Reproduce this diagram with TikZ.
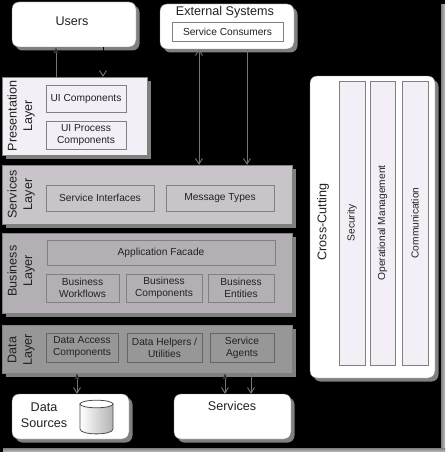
\documentclass[tikz,border=0pt]{standalone}
\usepackage{fontspec}
\setmainfont{Liberation Sans}
\usetikzlibrary{arrows.meta,shadows}
\definecolor{inktext}{HTML}{222222}
\definecolor{edgegray}{HTML}{808080}
\definecolor{shadowgray}{HTML}{808080}
\definecolor{linegray}{HTML}{757575}
\definecolor{preslayer}{HTML}{F4EEF6}
\definecolor{servlayer}{HTML}{C9C4C9}
\definecolor{busilayer}{HTML}{B4AFB4}
\definecolor{datalayer}{HTML}{979797}
\tikzset{
  outerbox/.style={draw=edgegray,fill=white,rounded corners=7pt,inner sep=0pt,
    general shadow={fill=shadowgray,shadow xshift=3.5pt,shadow yshift=-3.5pt}},
  layerbox/.style={draw=edgegray,inner sep=0pt,
    general shadow={fill=shadowgray,shadow xshift=3.5pt,shadow yshift=-3.5pt}},
  compbox/.style={draw=edgegray,line width=0.8pt,inner sep=0pt,align=center,text=inktext,
    font=\fontsize{10.2}{12}\selectfont},
  barbox/.style={compbox,fill=preslayer,rotate=90},
  biglabel/.style={inner sep=0pt,align=center,text=inktext,font=\fontsize{12.6}{15.5}\selectfont},
  layerlabel/.style={biglabel,rotate=90},
  link/.style={draw=linegray,line width=0.9pt},
  opentip/.tip={Straight Barb[length=5.5pt,width=7pt,color=linegray]},
  darktip/.tip={Latex[length=6pt,width=5.5pt,color=black!80]}
}
\begin{document}
\begin{tikzpicture}[x=1pt,y=-1pt]
  \useasboundingbox (0,0) rectangle (445,452);
  \fill[black] (0,0) rectangle (445,452);
  \shade[left color=shadowgray,right color=black!25] (441,5) rectangle (445,452);
  \shade[top color=shadowgray,bottom color=black!25] (3,448) rectangle (445,452);
  % outer systems
  \node[outerbox,minimum width=124,minimum height=45] (users) at (74,24.5) {};
  \node[biglabel] (userslabel) at (72,21) {Users};
  \node[outerbox,minimum width=134,minimum height=45] (external) at (227,26.5) {};
  \node[biglabel] (externallabel) at (225,12) {External Systems};
  \node[compbox,minimum width=111,minimum height=19] (consumers) at (227.5,31.5) {Service Consumers};
  \node[outerbox,minimum width=117,minimum height=45] (sources) at (70.5,416.5) {};
  \node[biglabel] (sourceslabel) at (44,415) {Data\\Sources};
  \shade[draw=black!70,line width=0.8pt,left color=white,right color=black!30]
    (80,404) -- (80,429) .. controls (80,435.5) and (113,435.5) .. (113,429) -- (113,404) -- cycle;
  \draw[black!70,line width=0.8pt,fill=white] (96.5,404) ellipse (16.5 and 3.8);
  \node[outerbox,minimum width=117,minimum height=45] (services) at (232.5,416.5) {};
  \node[biglabel] (serviceslabel) at (232,406) {Services};
  % layers
  \node[layerbox,fill=preslayer,minimum width=145,minimum height=78] (pres) at (74.5,116) {};
  \node[layerlabel] (preslabel) at (21,116) {Presentation\\Layer};
  \node[compbox,minimum width=80,minimum height=27] (uicomp) at (86,98.5) {UI Components};
  \node[compbox,minimum width=80,minimum height=28] (uiproc) at (86,135) {UI Process\\Components};
  \node[layerbox,fill=servlayer,minimum width=290,minimum height=59] (serv) at (147,194.5) {};
  \node[layerlabel] (servlabel) at (21,194.5) {Services\\Layer};
  \node[compbox,minimum width=108,minimum height=26] (interfaces) at (100,198) {Service Interfaces};
  \node[compbox,minimum width=108,minimum height=26] (messages) at (220,198) {Message Types};
  \node[layerbox,fill=busilayer,minimum width=290,minimum height=80] (busi) at (147,273) {};
  \node[layerlabel] (busilabel) at (21,271) {Business\\Layer};
  \node[compbox,minimum width=228,minimum height=25] (facade) at (161,252.5) {Application Facade};
  \node[compbox,minimum width=73,minimum height=28] (workflows) at (82.5,288) {Business\\Workflows};
  \node[compbox,minimum width=76,minimum height=28] (busicomp) at (164,288) {Business\\Components};
  \node[compbox,minimum width=66,minimum height=28] (entities) at (241,288) {Business\\Entities};
  \node[layerbox,fill=datalayer,minimum width=290,minimum height=48] (data) at (147,349) {};
  \node[layerlabel] (datalabel) at (21,350) {Data\\Layer};
  \node[compbox,draw=black!60,minimum width=72,minimum height=29] (access) at (82,347.5) {Data Access\\Components};
  \node[compbox,draw=black!60,minimum width=75,minimum height=29] (helpers) at (164.5,347.5) {Data Helpers /\\Utilities};
  \node[compbox,draw=black!60,minimum width=64,minimum height=29] (agents) at (242,347.5) {Service\\Agents};
  % cross-cutting column
  \node[outerbox,minimum width=125,minimum height=302] (cross) at (372.5,227) {};
  \node[biglabel,rotate=90] (crosslabel) at (323,222) {Cross-Cutting};
  \node[barbox,minimum width=284,minimum height=26] (security) at (352,223) {Security};
  \node[barbox,minimum width=284,minimum height=25] (operations) at (382.5,223) {Operational Management};
  \node[barbox,minimum width=284,minimum height=26] (communication) at (415,223) {Communication};
  % connectors
  \draw[link,-darktip] (56,0 |- pres.north) -- (56,0 |- users.south);
  \draw[black,line width=0.9pt,-opentip] (103,0 |- users.south) -- (103,0 |- pres.north);
  \draw[link,opentip-opentip] (199,0 |- external.south) -- (199,0 |- serv.north);
  \draw[link,-opentip] (247,0 |- external.south) -- (247,0 |- serv.north);
  \draw[link,darktip-opentip] (77,0 |- data.south) -- (77,0 |- sources.north);
  \draw[link,darktip-opentip] (225,0 |- data.south) -- (225,0 |- services.north);
  \draw[link,-opentip] (251,0 |- data.south) -- (251,0 |- services.north);
\end{tikzpicture}
\end{document}
